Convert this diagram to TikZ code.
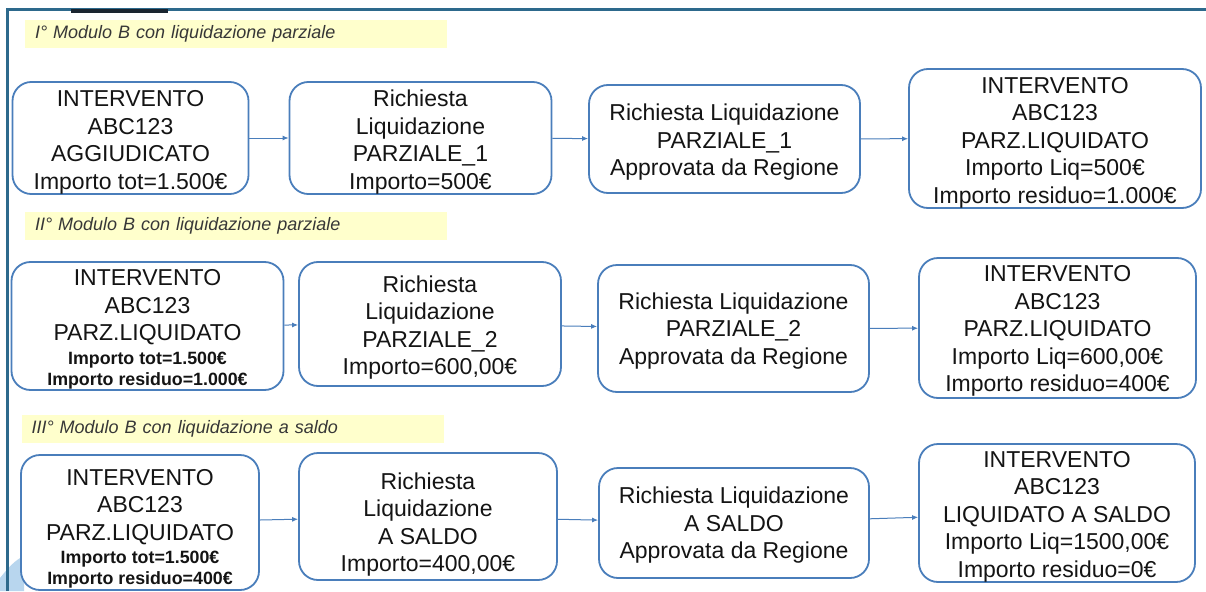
\documentclass[tikz,border=0pt]{standalone}
\usepackage{fontspec}
\setmainfont{Liberation Sans}
\usetikzlibrary{arrows.meta}
\definecolor{boxblue}{RGB}{74,126,187}
\definecolor{bandyellow}{RGB}{255,255,204}
\definecolor{framecol}{RGB}{45,105,140}
\definecolor{barcol}{RGB}{26,37,48}
\definecolor{blobcol}{RGB}{184,214,238}
\definecolor{txt}{RGB}{20,20,20}
\newcommand\toppad[1]{\rule{0pt}{#1pt}}
\newcommand\smallbold[1]{{\fontsize{17.8}{22}\selectfont\bfseries #1}}
\begin{document}
\begin{tikzpicture}[x=1pt,y=-1pt,
  box/.style={draw=boxblue, line width=1.8pt, rounded corners=19pt, fill=white,
    align=center, inner sep=0pt, text=txt, font=\fontsize{23}{27.5}\selectfont},
  band/.style={fill=bandyellow, inner xsep=10pt, inner ysep=0pt, text width=402pt,
    minimum height=28pt, align=left, text=txt!85, font=\fontsize{18}{20}\selectfont\itshape},
  flow/.style={draw=boxblue, line width=1pt, -{Latex[length=6pt,width=5pt]}}]
\useasboundingbox (0,0) rectangle (1206,591);
% frame
\fill[white] (0,0) rectangle (1206,591);
\fill[blobcol] (0,591) -- (0,578) .. controls (8,568) and (15,560) .. (24,556) -- (24,591) -- cycle;
\draw[framecol, line width=2.5pt] (7.5,591) -- (7.5,9.5) -- (1206,9.5);
\fill[barcol] (71,9) rectangle (168,13);
% bands
\node[band] (t1) at (236,34) {I° Modulo B con liquidazione parziale};
\node[band] (t2) at (236,226) {II° Modulo B con liquidazione parziale};
\node[band] (t3) at (232.5,428.5) {III° Modulo B con liquidazione a saldo};
% row 1
\node[box, minimum width=236pt, minimum height=110pt] (a1) at (130.5,138)
  {\toppad{24.8}INTERVENTO\\ABC123\\AGGIUDICATO\\Importo tot=1.500€};
\node[box, minimum width=262pt, minimum height=110pt] (a2) at (420.5,138)
  {\toppad{24.8}Richiesta\\Liquidazione\\PARZIALE\_1\\Importo=500€};
\node[box, minimum width=271pt, minimum height=108pt] (a3) at (724.5,139)
  {\toppad{22.8}Richiesta Liquidazione\\PARZIALE\_1\\Approvata da Regione};
\node[box, minimum width=292pt, minimum height=139pt] (a4) at (1055,138.5)
  {\toppad{23.8}INTERVENTO\\ABC123\\PARZ.LIQUIDATO\\Importo Liq=500€\\Importo residuo=1.000€};
% row 2
\node[box, minimum width=272pt, minimum height=128pt] (b1) at (147.5,326)
  {\toppad{22.8}INTERVENTO\\ABC123\\PARZ.LIQUIDATO\\[-4pt]
   \smallbold{Importo tot=1.500€}\\[-6.5pt]
   \smallbold{Importo residuo=1.000€}};
\node[box, minimum width=262pt, minimum height=124pt] (b2) at (430,324)
  {\toppad{23.8}Richiesta\\Liquidazione\\PARZIALE\_2\\Importo=600,00€};
\node[box, minimum width=271pt, minimum height=127pt] (b3) at (733.5,328.5)
  {\toppad{20.8}Richiesta Liquidazione\\PARZIALE\_2\\Approvata da Regione};
\node[box, minimum width=277pt, minimum height=140pt] (b4) at (1057.5,328)
  {\toppad{21.8}INTERVENTO\\ABC123\\PARZ.LIQUIDATO\\Importo Liq=600,00€\\Importo residuo=400€};
% row 3
\node[box, minimum width=238pt, minimum height=135pt] (c1) at (140,522.5)
  {\toppad{28.8}INTERVENTO\\ABC123\\PARZ.LIQUIDATO\\[-4pt]
   \smallbold{Importo tot=1.500€}\\[-6.5pt]
   \smallbold{Importo residuo=400€}};
\node[box, minimum width=258pt, minimum height=127pt] (c2) at (428,516.5)
  {\toppad{32.8}Richiesta\\Liquidazione\\A SALDO\\Importo=400,00€};
\node[box, minimum width=270pt, minimum height=110pt] (c3) at (734,523)
  {\toppad{20.8}Richiesta Liquidazione\\A SALDO\\Approvata da Regione};
\node[box, minimum width=276pt, minimum height=138pt] (c4) at (1057,513)
  {\toppad{22.8}INTERVENTO\\ABC123\\LIQUIDATO A SALDO\\Importo Liq=1500,00€\\Importo residuo=0€};
% connectors
\draw[flow] (a1) -- (a2);
\draw[flow] (a2) -- (a3);
\draw[flow] (a3) -- (a4);
\draw[flow] (b1) -- (b2);
\draw[flow] (b2) -- (b3);
\draw[flow] (b3) -- (b4);
\draw[flow] (c1) -- (c2);
\draw[flow] (c2) -- (c3);
\draw[flow] (c3) -- (c4);
\end{tikzpicture}
\end{document}
